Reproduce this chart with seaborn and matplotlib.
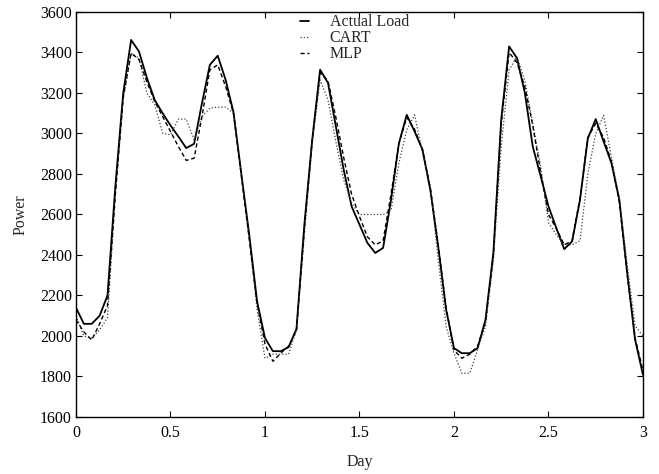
#!/usr/bin/env python3

import numpy as np
import pandas as pd
import seaborn as sns
import matplotlib.pyplot as plt

# hourly samples over three days
day = np.arange(73) / 24.0

actual = [2140, 2060, 2060, 2100, 2200, 2740, 3200, 3462, 3405, 3275, 3165, 3100, 3040, 2985, 2928, 2949, 3150, 3339, 3384, 3265, 3105,
          2800, 2500, 2170, 1990, 1925, 1925, 1945, 2035, 2550, 2970, 3315, 3250, 3035, 2820, 2640,
          2550, 2460, 2410, 2435, 2670, 2950, 3092, 3010, 2920, 2720, 2440, 2130, 1940, 1915, 1915, 1940, 2080, 2410, 3070, 3430,
          3372, 3200, 2936, 2790, 2640, 2533, 2429, 2467, 2672, 2977, 3071, 2960, 2853, 2672, 2310, 1981, 1808]

cart = [2100, 2000, 1990, 2030, 2090, 2700, 3170, 3397, 3372, 3199, 3142, 3002, 2993, 3071, 3071, 2969, 3084, 3125, 3130, 3130, 3100,
        2800, 2480, 2130, 1890, 1910, 1910, 1910, 2030, 2500, 2950, 3265, 3166, 2960, 2771, 2656,
        2600, 2600, 2600, 2600, 2620, 2853, 3018, 3092, 2903, 2738, 2376, 2047, 1915, 1816, 1816, 1932, 2047, 2376, 2936, 3314,
        3380, 3260, 3050, 2840, 2560, 2500, 2450, 2450, 2470, 2800, 3000, 3090, 2880, 2680, 2350, 2050, 2000]

mlp = [2080, 2020, 1980, 2060, 2150, 2700, 3180, 3397, 3365, 3255, 3158, 3084, 3010, 2936, 2867, 2878, 3084, 3314, 3339, 3232, 3100,
       2790, 2480, 2160, 1960, 1875, 1915, 1950, 2030, 2530, 2970, 3300, 3260, 3080, 2880, 2700,
       2590, 2490, 2450, 2470, 2700, 2950, 3080, 3020, 2920, 2730, 2450, 2140, 1930, 1890, 1910, 1950, 2070, 2400, 3050, 3400,
       3350, 3230, 3040, 2810, 2600, 2530, 2450, 2470, 2680, 2980, 3050, 2980, 2860, 2660, 2300, 1990, 1830]

x_ticks = [0, 0.5, 1, 1.5, 2, 2.5, 3]
x_labels = ['0', '0.5', '1', '1.5', '2', '2.5', '3']
y_ticks = list(range(1600, 3601, 200))

data = pd.DataFrame({'Day': day, 'Actual Load': actual, 'CART': cart, 'MLP': mlp})

sns.set_style('ticks')
plt.rcParams['font.family'] = ['Liberation Serif', 'DejaVu Serif']
plt.rcParams['font.size'] = 11.5

fig = plt.figure(figsize=(6.59, 4.74), dpi=100)
ax = fig.add_axes([0.1153, 0.1203, 0.8604, 0.8544])

sns.lineplot(x='Day', y='Actual Load', data=data, ax=ax, color='black',
             linewidth=1.3, label='Actual Load')
sns.lineplot(x='Day', y='CART', data=data, ax=ax, color='0.25',
             linewidth=0.9, linestyle=(0, (1, 1.6)), label='CART')
sns.lineplot(x='Day', y='MLP', data=data, ax=ax, color='black',
             linewidth=1.0, linestyle=(0, (3, 2)), label='MLP')

ax.set_xlim(0, 3)
ax.set_ylim(1600, 3600)
ax.set_xticks(x_ticks)
ax.set_xticklabels(x_labels)
ax.set_yticks(y_ticks)

# ticks on all four sides, pointing in
ax.tick_params(direction='in', length=4, width=0.8, top=True, right=True,
               labelsize=11.5, colors='black')
ax.tick_params(axis='x', pad=6)
ax.tick_params(axis='y', pad=3)
for s in ax.spines.values():
    s.set_visible(True)
    s.set_linewidth(1.0)
    s.set_color('black')

ax.set_xlabel('Day', fontsize=11.5, labelpad=9)
ax.set_ylabel('Power', fontsize=11.5, labelpad=8)

ax.legend(loc='upper left', bbox_to_anchor=(0.39, 1.0), frameon=False,
          borderaxespad=0, borderpad=0.15, handlelength=0.6,
          handletextpad=1.3, labelspacing=0.0, fontsize=11.5)

plt.savefig('out.png', dpi=100)
